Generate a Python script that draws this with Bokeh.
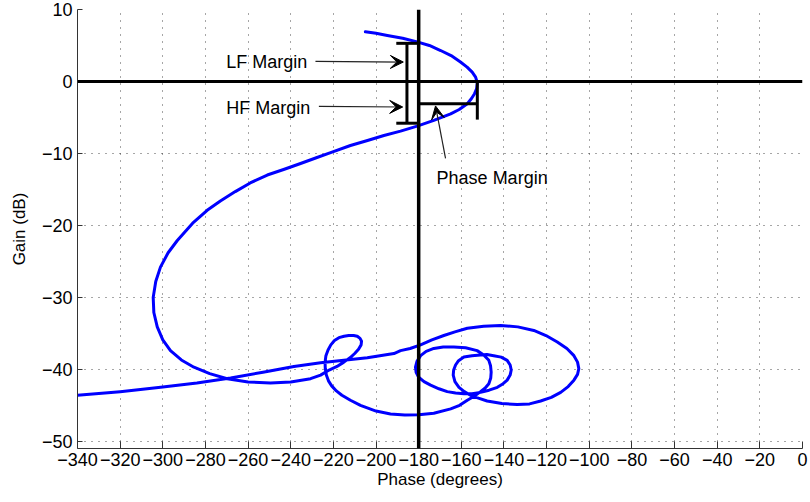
from bokeh.plotting import figure
from bokeh.models import Span, Arrow, VeeHead, Label, FixedTicker, Range1d
from bokeh.embed import file_html
from bokeh.resources import INLINE

# ---- data ----
phase = [
    -205.0, -200.0, -194.7, -187.5, -180.7, -175.0, -169.7, -164.8, -160.4, -157.3,
    -154.9, -153.3, -152.5, -152.8, -153.8, -155.3, -157.2, -161.0, -165.0, -172.9,
    -180.7, -188.5, -196.3, -204.0, -212.0, -221.3, -228.0, -235.4, -243.0, -251.0,
    -259.0, -266.0, -273.0, -279.2, -286.0, -293.2, -297.5, -301.1, -303.3, -304.5,
    -304.2, -302.6, -300.0, -296.4, -291.3, -285.4, -278.0, -269.8, -260.0, -249.5,
    -240.0, -230.7, -226.0, -222.0, -218.3, -215.1, -212.2, -210.0, -208.2, -207.0,
    -206.8, -207.5, -208.8, -210.5, -212.8, -215.0, -217.4, -219.5, -221.2, -222.5,
    -223.5, -223.9, -223.8, -223.3, -222.3, -220.8, -218.6, -216.0, -212.0, -207.3,
    -200.0, -193.2, -186.5, -180.0, -172.9, -165.0, -160.8, -157.2, -153.8, -151.0,
    -148.8, -147.1, -146.2, -146.0, -146.3, -147.1, -149.5, -152.6, -158.0, -163.5,
    -168.5, -172.9, -176.5, -179.1, -180.8, -181.5, -181.2, -180.0, -177.5, -174.4,
    -170.5, -166.6, -162.7, -158.8, -155.0, -151.0, -147.0, -143.1, -140.4, -138.5,
    -137.1, -136.6, -137.1, -138.5, -141.3, -144.8, -148.0, -151.0, -155.0, -158.8,
    -161.3, -162.7, -163.6, -163.8, -163.0, -161.1, -158.6, -155.7, -152.0, -147.9,
    -141.0, -133.8, -128.0, -122.8, -117.8, -113.4, -109.9, -107.2, -105.5, -104.9,
    -105.5, -107.2, -110.5, -115.0, -120.3, -126.0, -133.5, -141.6, -149.5, -157.2,
    -163.0, -168.2, -173.8, -179.1, -184.0, -188.5, -191.6, -204.1, -215.1, -226.0,
    -238.5, -253.0, -268.2, -284.0, -301.0, -320.0, -340.0,
]
gain = [
    6.9, 6.7, 6.4, 6.0, 5.5, 5.0, 4.3, 3.6, 2.7, 2.0,
    1.3, 0.6, -0.2, -1.0, -1.7, -2.4, -3.1, -3.9, -4.5, -5.4,
    -6.2, -6.9, -7.5, -8.2, -8.9, -9.9, -10.6, -11.4, -12.2, -13.0,
    -14.1, -15.3, -16.6, -17.9, -19.7, -22.1, -23.8, -25.8, -27.8, -30.0,
    -32.1, -34.1, -35.9, -37.4, -38.7, -39.7, -40.6, -41.3, -41.75, -41.9,
    -41.75, -41.3, -40.8, -40.1, -39.6, -39.0, -38.4, -37.8, -37.2, -36.6,
    -36.1, -35.7, -35.4, -35.3, -35.3, -35.4, -35.6, -36.0, -36.6, -37.3,
    -38.1, -39.0, -39.9, -40.8, -41.6, -42.3, -43.0, -43.6, -44.3, -45.0,
    -45.8, -46.2, -46.35, -46.3, -46.1, -45.5, -45.0, -44.3, -43.7, -43.1,
    -42.6, -42.0, -41.2, -40.4, -39.5, -38.75, -38.0, -37.4, -37.0, -36.9,
    -36.9, -37.1, -37.5, -38.1, -38.9, -39.7, -40.4, -41.1, -41.7, -42.2,
    -42.7, -43.1, -43.3, -43.4, -43.4, -43.2, -42.9, -42.5, -42.0, -41.5,
    -40.8, -40.1, -39.4, -38.75, -38.3, -38.1, -37.95, -38.0, -38.1, -38.3,
    -38.8, -39.4, -40.1, -40.8, -41.7, -42.5, -43.1, -43.6, -44.0, -44.4,
    -44.75, -44.9, -44.8, -44.4, -43.9, -43.2, -42.4, -41.5, -40.7, -39.9,
    -39.0, -38.1, -37.1, -36.2, -35.3, -34.6, -34.1, -33.9, -34.0, -34.3,
    -34.8, -35.3, -35.9, -36.6, -37.1, -37.4, -37.8, -38.4, -38.75, -39.1,
    -39.6, -40.4, -41.2, -41.9, -42.5, -43.1, -43.6,
]

x_ticks = list(range(-340, 1, 20))
x_tick_labels = ["\u2212" + str(-t) if t < 0 else str(t) for t in x_ticks]
y_ticks = [-50, -40, -30, -20, -10, 0, 10]
y_tick_labels = ["\u2212" + str(-t) if t < 0 else str(t) for t in y_ticks]

# margins
margin_phase = -185.5     # phase where the gain-margin bar is drawn
lf_margin_top = 5.3       # dB
hf_margin_bottom = -5.8   # dB
pm_gain = -3.1            # dB level of the phase-margin bar
pm_phase_end = -152.5     # phase at which |L| = 0 dB

FONT = "Liberation Sans"

p = figure(width=810, height=502, x_range=Range1d(-340, 0), y_range=Range1d(-51, 10),
           output_backend="svg", toolbar_location=None,
           min_border_left=77, min_border_right=8, min_border_top=9, min_border_bottom=54)
p.outline_line_color = None
p.background_fill_color = "white"

# axes
p.xaxis.ticker = FixedTicker(ticks=x_ticks)
p.yaxis.ticker = FixedTicker(ticks=y_ticks)
p.xaxis.major_label_overrides = {t: s for t, s in zip(x_ticks, x_tick_labels)}
p.yaxis.major_label_overrides = {t: s for t, s in zip(y_ticks, y_tick_labels)}
for ax in (p.xaxis[0], p.yaxis[0]):
    ax.axis_line_color = "#333333"
    ax.axis_line_width = 1
    ax.major_tick_out = 0
    ax.major_tick_line_color = "#333333"
    ax.minor_tick_line_color = None
    ax.major_label_text_font = FONT
    ax.major_label_text_font_size = "18px"
    ax.major_label_text_color = "black"
    ax.axis_label_text_font = FONT
    ax.axis_label_text_font_size = "17px"
    ax.axis_label_text_font_style = "normal"
    ax.axis_label_text_color = "black"
p.xaxis.major_tick_in = 7
p.yaxis.major_tick_in = 5
p.xaxis.major_label_standoff = 4
p.yaxis.major_label_standoff = 5
p.xaxis.axis_label = "Phase (degrees)"
p.yaxis.axis_label = "Gain (dB)"
p.xaxis.axis_label_standoff = 1
p.yaxis.axis_label_standoff = 10

for g in (p.xgrid[0], p.ygrid[0]):
    g.grid_line_color = "#222222"
    g.grid_line_alpha = 0.8
    g.grid_line_dash = "1 6"
    g.grid_line_width = 1

# curve
p.line(phase, gain, line_color="#0000ff", line_width=3, line_join="round", line_cap="round")

# reference lines
p.add_layout(Span(location=-180, dimension="height", line_color="black", line_width=3.5))
p.add_layout(Span(location=0, dimension="width", line_color="black", line_width=3))

# gain margin bar (LF / HF)
cap = 5.0
p.segment(x0=[margin_phase, margin_phase - cap, margin_phase - cap],
          y0=[hf_margin_bottom, lf_margin_top, hf_margin_bottom],
          x1=[margin_phase, margin_phase + cap, margin_phase + cap],
          y1=[lf_margin_top, lf_margin_top, hf_margin_bottom],
          line_color="black", line_width=3, level="overlay")
# phase margin bar
p.segment(x0=[-180, pm_phase_end], y0=[pm_gain, -0.2],
          x1=[pm_phase_end, pm_phase_end], y1=[pm_gain, -5.3],
          line_color="black", line_width=3, level="overlay")

# annotations
def arrow(xs, ys, xe, ye):
    p.add_layout(Arrow(end=VeeHead(size=13, fill_color="black", line_color="black"),
                       x_start=xs, y_start=ys, x_end=xe, y_end=ye,
                       line_color="#222222", line_width=1.2))

arrow(-228.4, 2.8, -187.2, 2.7)
arrow(-226.8, -3.45, -187.5, -3.55)
arrow(-167.4, -10.7, -172.1, -3.4)

for x, y, t in [(-270.2, 2.7, "LF Margin"), (-270.2, -3.75, "HF Margin"), (-171.6, -13.45, "Phase Margin")]:
    p.add_layout(Label(x=x, y=y, text=t, text_font=FONT, text_font_size="18px",
                       text_baseline="alphabetic", text_color="black"))

open("out.html", "w").write(file_html(p, INLINE))
